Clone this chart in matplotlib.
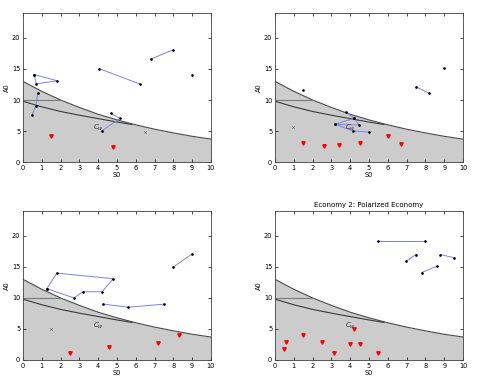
import matplotlib
matplotlib.use('Agg')
import matplotlib.pyplot as plt

# boundary curves
curve_x = [0, 1, 2, 3, 4, 5, 6, 7, 8, 9, 10]
upper_y = [13.0, 11.4, 10.0, 8.8, 7.7, 6.8, 6.0, 5.3, 4.7, 4.15, 3.7]
lower_x = [0, 1, 2, 3, 4, 5, 5.8]
lower_y = [9.8, 8.9, 8.15, 7.55, 7.0, 6.45, 6.05]
flat_x = [0, 2]
flat_y = [10, 10]

# panel 1 (top left)
p1_lines = [
    ([0.6, 1.83, 0.7, 0.6], [14.1, 13.1, 12.6, 14.1]),
    ([0.78, 0.69, 0.48], [11.1, 9.1, 7.6]),
    ([4.06, 6.2], [15.05, 12.6]),
    ([6.8, 8.0], [16.6, 18.1]),
    ([4.66, 5.16, 4.19], [7.85, 7.05, 5.0]),
]
p1_dots = ([9.0], [14.1])
p1_red = ([1.49, 4.8], [4.14, 2.4])
p1_gray = ([6.5], [4.9])

# panel 2 (top right)
p2_lines = [
    ([7.5, 8.2], [12.1, 11.1]),
    ([3.78, 4.2, 3.19, 4.48, 4.2], [8.06, 7.05, 6.08, 5.97, 7.05]),
    ([3.19, 4.17, 5.02], [6.08, 5.0, 4.84]),
]
p2_dots = ([1.51, 8.99], [11.6, 15.1])
p2_red = ([1.51, 2.6, 3.4, 4.5, 6.0, 6.7], [3.06, 2.6, 2.8, 3.06, 4.25, 2.85])
p2_gray = ([0.98], [5.6])

# panel 3 (bottom left)
p3_lines = [
    ([1.27, 1.8, 4.8, 4.21, 3.19, 2.71, 1.27], [11.5, 14.0, 13.1, 11.0, 11.0, 10.0, 11.5]),
    ([4.28, 5.6, 7.5], [9.0, 8.5, 9.0]),
    ([8.0, 9.0], [15.0, 17.1]),
]
p3_dots = ([], [])
p3_red = ([2.5, 4.6, 7.2, 8.3], [1.08, 2.05, 2.75, 4.0])
p3_gray = ([1.49], [5.0])

# panel 4 (bottom right)
p4_lines = [
    ([5.48, 8.0], [19.1, 19.1]),
    ([6.98, 7.5], [15.9, 17.0]),
    ([7.8, 8.6], [14.1, 15.1]),
    ([8.8, 9.5], [17.0, 16.5]),
]
p4_dots = ([], [])
p4_red = ([0.5, 0.6, 1.5, 2.5, 3.12, 4.0, 4.2, 4.5, 5.48],
          [1.73, 2.97, 4.05, 2.97, 1.08, 2.5, 5.0, 2.55, 1.08])
p4_gray = ([], [])

panels = [
    (p1_lines, p1_dots, p1_red, p1_gray, ''),
    (p2_lines, p2_dots, p2_red, p2_gray, ''),
    (p3_lines, p3_dots, p3_red, p3_gray, ''),
    (p4_lines, p4_dots, p4_red, p4_gray, 'Economy 2: Polarized Economy'),
]
positions = [
    [0.0472, 0.569, 0.386, 0.396],
    [0.5647, 0.569, 0.386, 0.396],
    [0.0472, 0.0426, 0.386, 0.396],
    [0.5647, 0.0426, 0.386, 0.396],
]

fig = plt.figure(figsize=(4.87, 3.76), dpi=100)
for (lines, dots, red, gray, title), pos in zip(panels, positions):
    ax = fig.add_axes(pos)
    ax.fill_between(curve_x, 0, upper_y, color='#cccccc', lw=0)
    ax.plot(curve_x, upper_y, color='#4a4a4a', lw=0.8)
    ax.plot(lower_x, lower_y, color='#3a3a3a', lw=0.8)
    ax.plot(flat_x, flat_y, color='#7a7a7a', lw=0.8)
    for lx, ly in lines:
        ax.plot(lx, ly, color='#8080e6', lw=0.7, marker='.', ms=1.8,
                mfc='black', mec='black')
    ax.plot(dots[0], dots[1], ls='none', marker='.', ms=1.8, color='black')
    ax.plot(red[0], red[1], ls='none', marker='v', ms=2.5, color='red')
    ax.plot(gray[0], gray[1], ls='none', marker='x', ms=1.8, color='#707070', mew=0.5)
    ax.text(4.0, 5.5, r'$C_w$', fontsize=5, color='#303030', ha='center', va='center')
    ax.set_xlim(0, 10)
    ax.set_ylim(0, 24)
    ax.set_xticks(range(11))
    ax.set_yticks([0, 5, 10, 15, 20])
    ax.tick_params(labelsize=4.8, direction='in', length=2, width=0.5,
                   top=True, right=True, pad=2)
    for s in ax.spines.values():
        s.set_linewidth(0.6)
        s.set_color('#404040')
    ax.set_xlabel('S0', fontsize=4.8, labelpad=1)
    ax.set_ylabel('A0', fontsize=4.8, labelpad=1)
    if title:
        ax.set_title(title, fontsize=5, pad=3)

plt.savefig('out.png', dpi=100)
